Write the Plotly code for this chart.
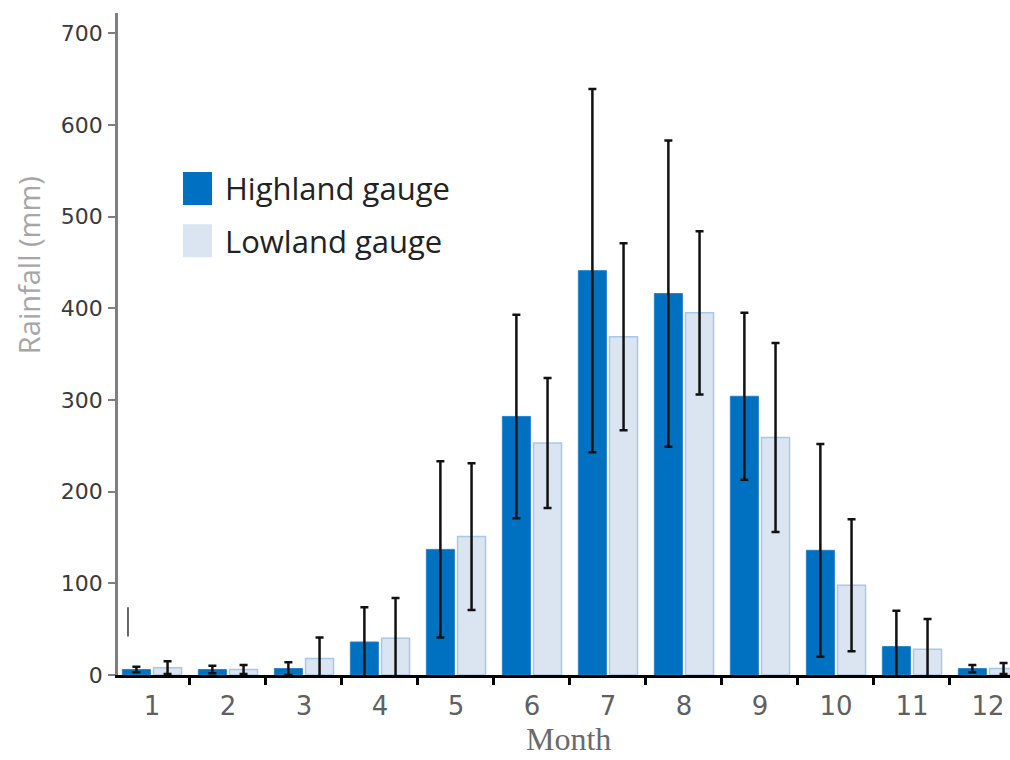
import plotly.graph_objects as go

# ---- data ----
months = ["1", "2", "3", "4", "5", "6", "7", "8", "9", "10", "11", "12"]
series_names = ["Highland gauge", "Lowland gauge"]
highland = [6, 6, 7, 36, 137, 282, 441, 416, 304, 136, 31, 7]
highland_err = [3, 4, 7, 38, 96, 111, 198, 167, 91, 116, 39, 4]
lowland = [8, 6, 18, 40, 151, 253, 369, 395, 259, 98, 28, 7]
lowland_err = [7, 5, 23, 44, 80, 71, 102, 89, 103, 72, 33, 6]
y_ticks = [0, 100, 200, 300, 400, 500, 600, 700]

# ---- styles ----
HIGH_COLOR = "#0070C0"
LOW_FILL = "#DAE5F1"
LOW_LINE = "#A9C8E8"

fig = go.Figure()
fig.add_trace(go.Bar(
    x=months, y=highland, name=series_names[0],
    marker=dict(color=HIGH_COLOR, line=dict(color="#2a82c8", width=1)),
    error_y=dict(type="data", array=highland_err, visible=True,
                 color="#111111", thickness=2.5, width=4),
    showlegend=False,
))
fig.add_trace(go.Bar(
    x=months, y=lowland, name=series_names[1],
    marker=dict(color=LOW_FILL, line=dict(color=LOW_LINE, width=1.5)),
    error_y=dict(type="data", array=lowland_err, visible=True,
                 color="#111111", thickness=2.5, width=4),
    showlegend=False,
))

fig.update_layout(
    width=1010, height=760, autosize=False,
    margin=dict(l=118, r=0, t=13, b=85),
    paper_bgcolor="white", plot_bgcolor="white",
    barmode="group", bargap=0.18, bargroupgap=0.1,
    showlegend=False,
)

fig.update_xaxes(
    type="category", range=[-0.447, 11.29],
    showline=True, linecolor="black", linewidth=3,
    ticks="outside", tickson="boundaries", ticklen=7, tickwidth=3, tickcolor="black",
    tickfont=dict(family="DejaVu Sans", size=26, color="#606060"),
    ticklabelstandoff=6,
    showgrid=False, zeroline=False,
)
fig.update_yaxes(
    range=[0, 722], tickvals=y_ticks, ticktext=[str(v) for v in y_ticks],
    showline=True, linecolor="#7f7f7f", linewidth=2.5,
    ticks="outside", ticklen=7, tickwidth=2, tickcolor="#7f7f7f",
    tickfont=dict(family="DejaVu Sans", size=22, color="#3a3a3a"),
    ticklabelstandoff=1,
    showgrid=False, zeroline=False,
)

# axis titles
fig.add_annotation(
    text="Rainfall (mm)", textangle=-90, showarrow=False,
    xref="paper", yref="paper", x=-0.101, y=0.619,
    xanchor="center", yanchor="middle",
    font=dict(family="Open Sans", size=29, color="#a6a6a6"),
)
fig.add_annotation(
    text="Month", showarrow=False,
    xref="paper", yref="paper", x=0.5056, y=-0.1265,
    xanchor="center", yanchor="bottom",
    font=dict(family="Liberation Serif", size=32, color="#6a6a6a"),
)

# manual legend (large swatches as in the reference)
legend_items = [(series_names[0], HIGH_COLOR, 0.735), (series_names[1], LOW_FILL, 0.656)]
for name, fill, ypos in legend_items:
    fig.add_shape(type="rect", xref="paper", yref="paper",
                  x0=0.0729, x1=0.1054, y0=ypos - 0.025, y1=ypos + 0.025,
                  fillcolor=fill, line=dict(width=0))
    fig.add_annotation(text=name, showarrow=False, xref="paper", yref="paper",
                       x=0.118, y=ypos, xanchor="left", yanchor="middle",
                       font=dict(family="Open Sans", size=31, color="#222222"))

# small stray vertical stroke visible in the reference near the y axis
fig.add_shape(type="line", xref="paper", yref="y", x0=0.0112, x1=0.0112, y0=42, y1=74,
              line=dict(color="#333333", width=1.5))

fig.write_html("out.html")
